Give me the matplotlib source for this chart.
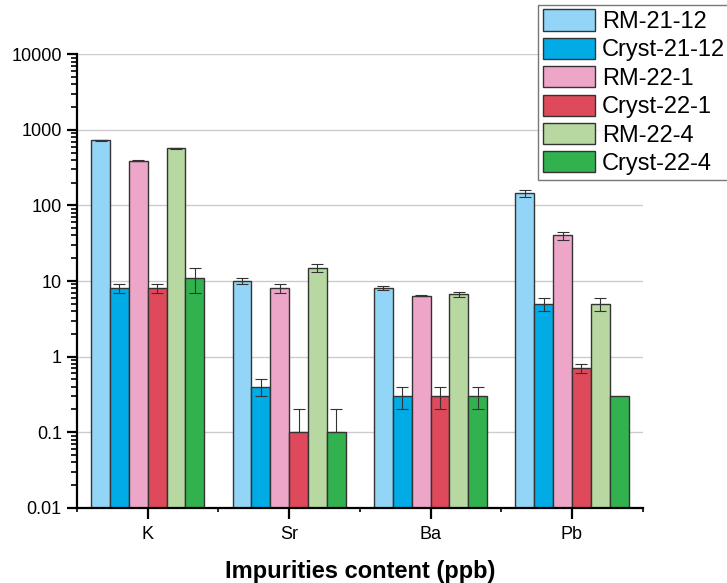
import matplotlib.pyplot as plt
import numpy as np
from matplotlib.ticker import LogLocator, FixedLocator, NullFormatter

plt.rcParams['font.family'] = ['Liberation Sans', 'DejaVu Sans']

# impurity concentrations, ppb
elements = ['K', 'Sr', 'Ba', 'Pb']
series = ['RM-21-12', 'Cryst-21-12', 'RM-22-1', 'Cryst-22-1', 'RM-22-4', 'Cryst-22-4']
colors = ['#93d5f6', '#00abe6', '#eea6c8', '#de4a5c', '#b7d8a0', '#31b24f']

rm_21_12 = [730, 10, 8, 145]
cryst_21_12 = [8, 0.4, 0.3, 5]
rm_22_1 = [390, 8, 6.4, 40]
cryst_22_1 = [8, 0.1, 0.3, 0.7]
rm_22_4 = [570, 15, 6.7, 5]
cryst_22_4 = [11, 0.1, 0.3, 0.3]

# error bars (lower, upper)
err_rm_21_12 = ([8, 1, 0.5, 15], [8, 1, 0.5, 15])
err_cryst_21_12 = ([1, 0.1, 0.1, 1], [1, 0.1, 0.1, 1])
err_rm_22_1 = ([5, 1, 0.15, 5], [5, 1, 0.15, 5])
err_cryst_22_1 = ([1, 0, 0.1, 0.1], [1, 0.1, 0.1, 0.1])
err_rm_22_4 = ([8, 2, 0.5, 1], [8, 2, 0.5, 1])
err_cryst_22_4 = ([4, 0, 0.1, 0], [4, 0.1, 0.1, 0])

values = [rm_21_12, cryst_21_12, rm_22_1, cryst_22_1, rm_22_4, cryst_22_4]
errors = [err_rm_21_12, err_cryst_21_12, err_rm_22_1, err_cryst_22_1, err_rm_22_4, err_cryst_22_4]

fig = plt.figure(figsize=(7.27, 5.83), dpi=100)
ax = fig.add_axes([0.106, 0.129, 0.778, 0.778])

x = np.arange(len(elements))
w = 0.8 / len(series)
for i, (name, vals, err, c) in enumerate(zip(series, values, errors, colors)):
    pos = x - 0.4 + w * (i + 0.5)
    ax.bar(pos, vals, width=w, color=c, edgecolor='#333333', linewidth=1.0,
           label=name, zorder=2)
    lo, hi = np.array(err[0], float), np.array(err[1], float)
    mask = (lo + hi) > 0
    ax.errorbar(pos[mask], np.array(vals)[mask], yerr=[lo[mask], hi[mask]],
                fmt='none', ecolor='#333333', elinewidth=0.8, capsize=4,
                capthick=0.8, zorder=3)

ax.set_yscale('log')
ax.set_ylim(0.01, 10000)
ax.set_xlim(-0.5, 3.5)
ax.yaxis.set_major_locator(FixedLocator([0.01, 0.1, 1, 10, 100, 1000, 10000]))
ax.set_yticklabels(['0.01', '0.1', '1', '10', '100', '1000', '10000'])
ax.yaxis.set_minor_locator(LogLocator(base=10, subs=np.arange(2, 10)))
ax.yaxis.set_minor_formatter(NullFormatter())

ax.set_xticks(x)
ax.set_xticklabels(elements)
ax.set_xticks(np.arange(-0.5, 4, 1), minor=True)

ax.grid(axis='y', which='major', color='#cccccc', linewidth=1.0, zorder=0)
ax.set_axisbelow(True)

for s in ['top', 'right']:
    ax.spines[s].set_visible(False)
for s in ['left', 'bottom']:
    ax.spines[s].set_linewidth(1.6)
    ax.spines[s].set_color('black')

ax.tick_params(axis='both', which='major', direction='out', length=7, width=1.6,
               labelsize=13, pad=4)
ax.tick_params(axis='both', which='minor', direction='out', length=4, width=1.2)
ax.tick_params(axis='x', which='major', length=8, pad=5)
ax.tick_params(axis='x', which='minor', length=3)

ax.set_xlabel('Impurities content (ppb)', fontsize=17, fontweight='bold', labelpad=12)

leg = fig.legend(loc='upper right', bbox_to_anchor=(1.004, 0.992), fontsize=17,
                 frameon=True, fancybox=False, edgecolor='#555555',
                 handlelength=2.2, handleheight=1.0, handletextpad=0.3,
                 labelspacing=0.2, borderpad=0.2, borderaxespad=0)
leg.get_frame().set_linewidth(1.0)

fig.savefig('out.png', dpi=100)
